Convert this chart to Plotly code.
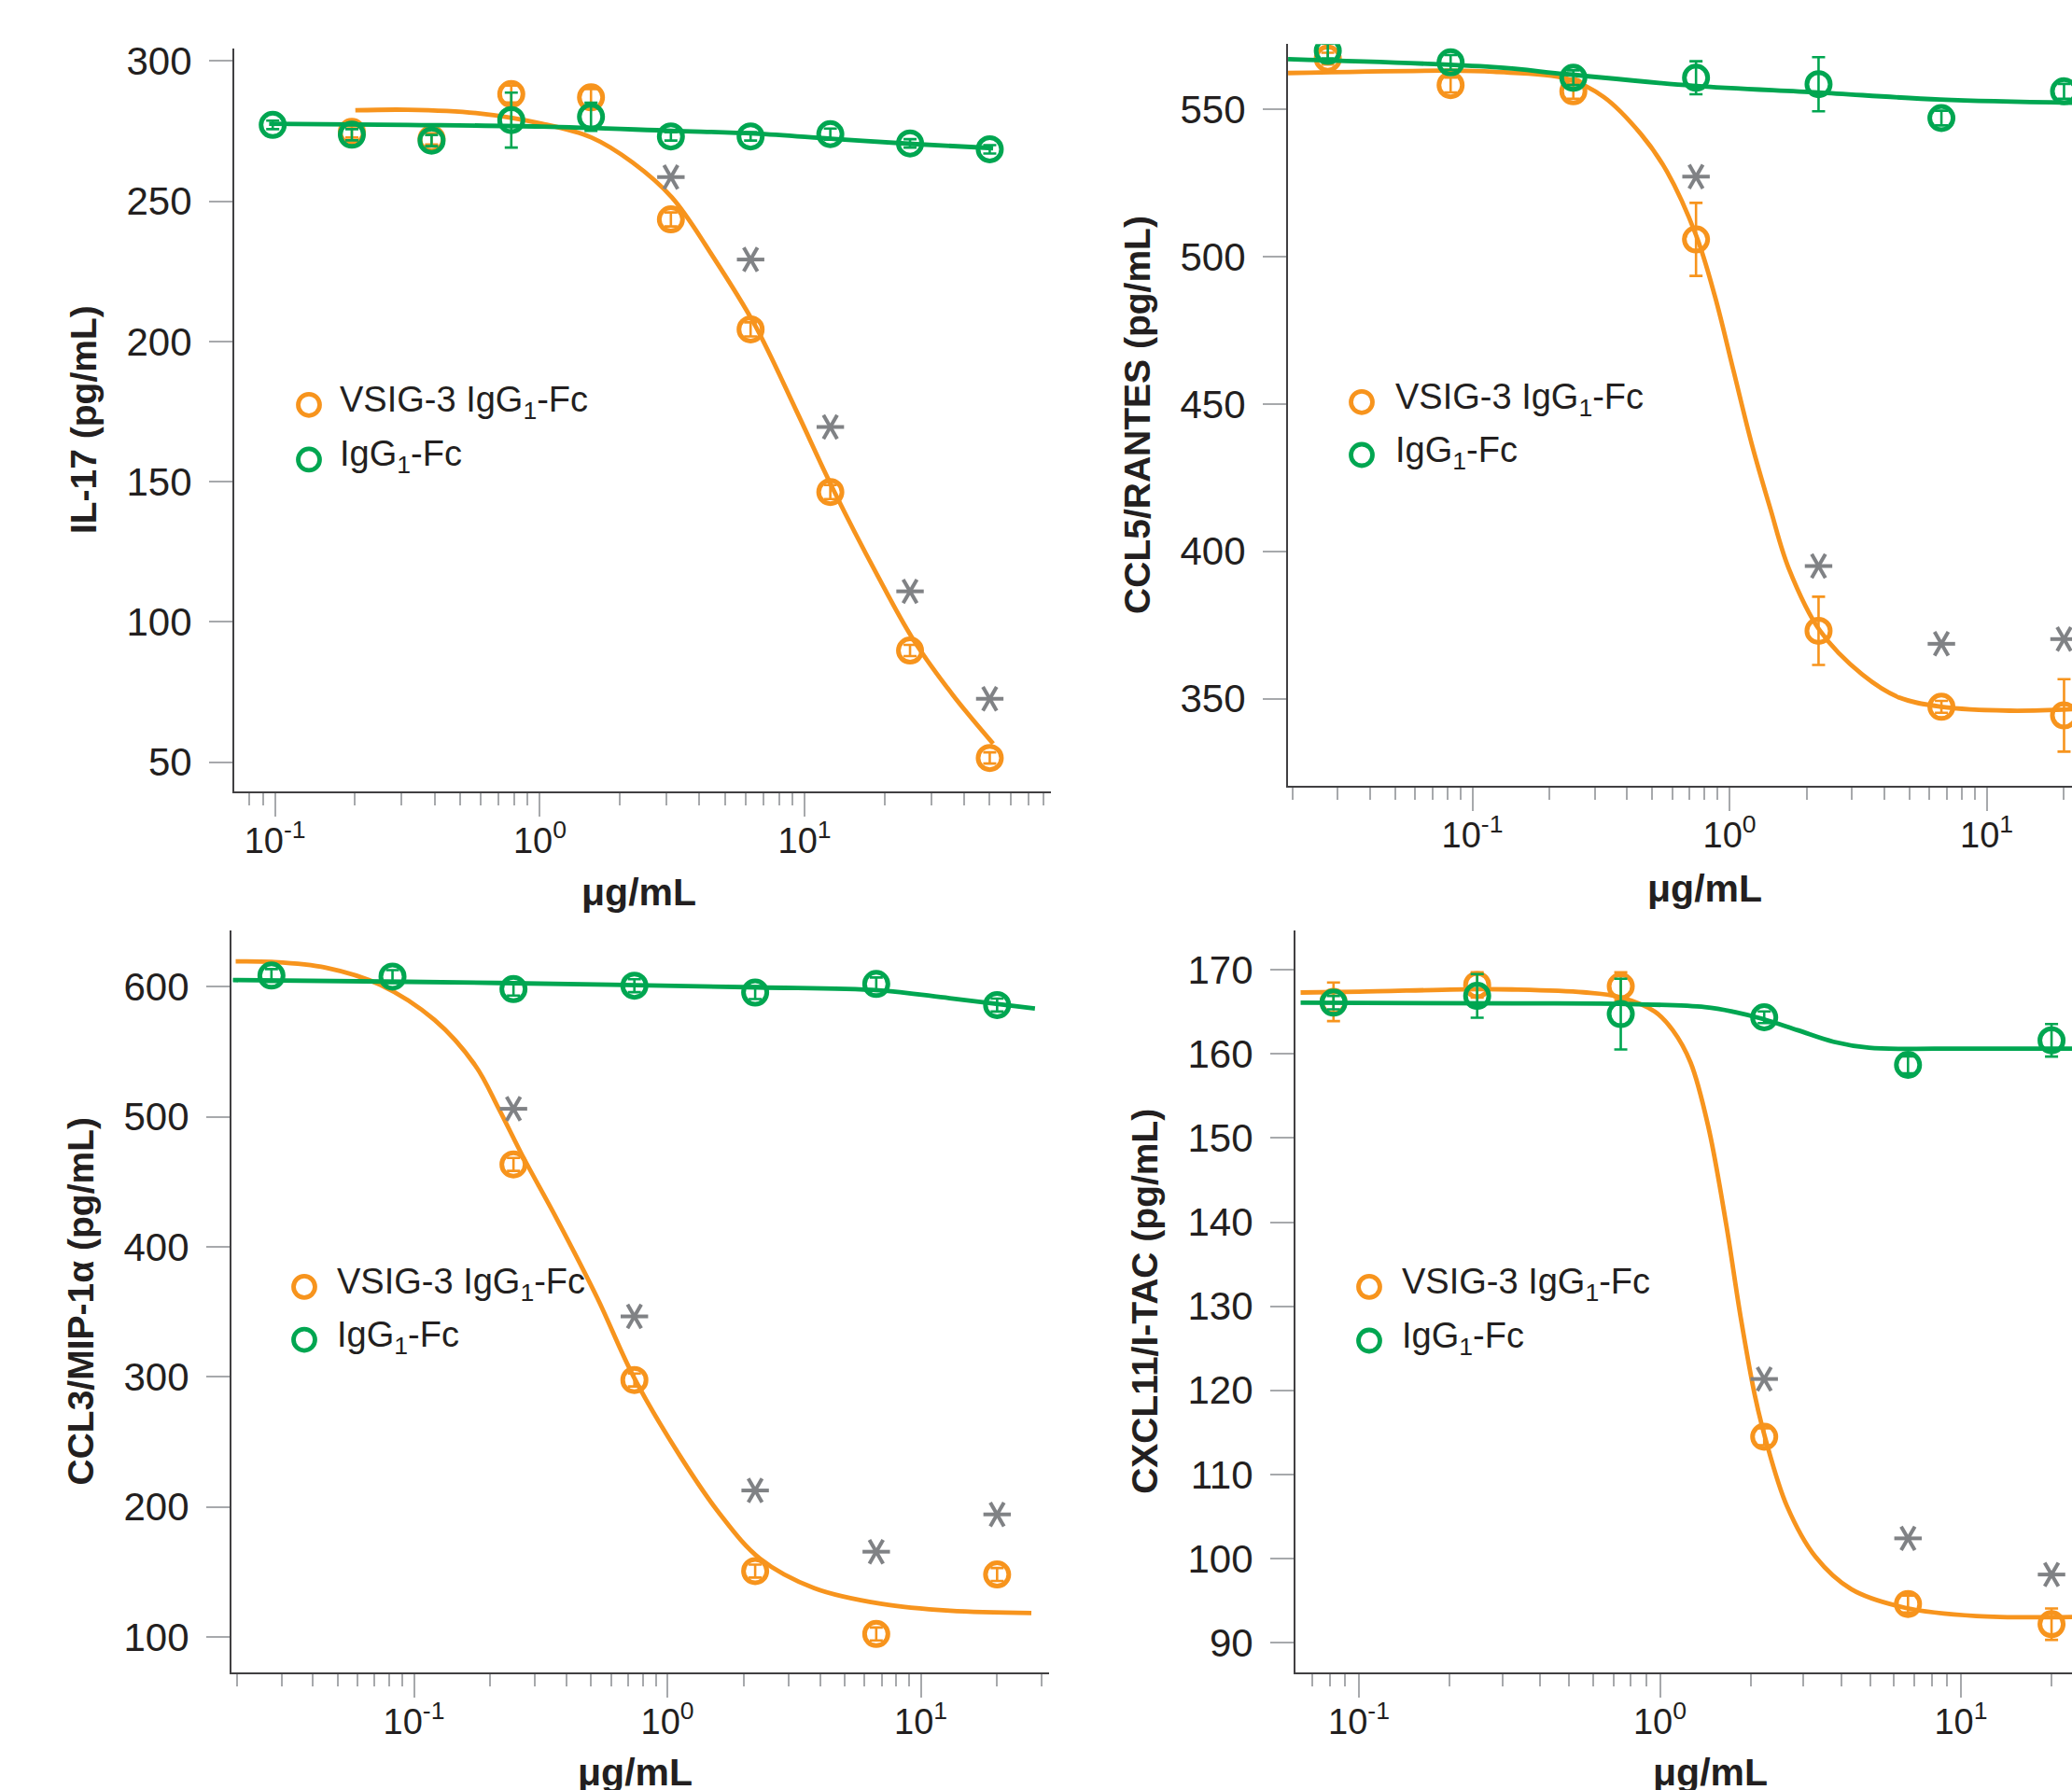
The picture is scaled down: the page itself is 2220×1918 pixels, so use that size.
import plotly.graph_objects as go

W, H = 2220, 1918
ORANGE = "#F7941D"
GREEN = "#00A651"
STAR = "#808285"
TEXT = "#231F20"
AXIS = "#414042"
TICK = "#A7A9AC"
FONT = "Liberation Sans, Arial, Helvetica, sans-serif"

# ---------------- Panel 1: IL-17 ----------------
il17_conc_vsig = [0.195, 0.39, 0.78, 1.56, 3.125, 6.25, 12.5, 25, 50]
il17_vsig = [274.7, 272.2, 288.2, 287.0, 243.5, 204.3, 146.3, 89.8, 51.5]
il17_vsig_err = [2, 2, 3, 3, 2.5, 2.5, 2.5, 2, 2]
il17_conc_igg = [0.098, 0.195, 0.39, 0.78, 1.56, 3.125, 6.25, 12.5, 25, 50]
il17_igg = [277.2, 273.7, 271.6, 278.9, 280.1, 273.1, 273.1, 273.9, 270.6, 268.5]
il17_igg_err = [1.5, 2, 2, 9.8, 5, 1.5, 1.5, 2, 1.5, 1.5]
il17_star_conc = [3.125, 6.25, 12.5, 25, 50]
il17_star_y = [258.6, 229.2, 169.5, 110.9, 72.6]
il17_fit_vsig_x = [0.201, 0.317, 0.573, 1.02, 1.567, 2.24, 3.155, 4.55, 6.49, 9.26, 12.9, 18.8, 25.6, 36.1, 51.5]
il17_fit_vsig_y = [282.4, 282.6, 281.4, 277.6, 272.7, 263.8, 251.3, 229.6, 205.8, 175.7, 146.7, 116.7, 94.0, 74.2, 56.6]
il17_fit_igg_x = [0.095, 0.317, 1.02, 3.155, 6.49, 12.9, 25.6, 51.5]
il17_fit_igg_y = [277.6, 277.2, 276.6, 275.1, 274.1, 272.2, 270.4, 268.9]

# ---------------- Panel 2: CCL5/RANTES ----------------
ccl5_conc = [0.0274, 0.0823, 0.247, 0.741, 2.22, 6.67, 20]
ccl5_vsig = [567.3, 558.3, 556.2, 505.9, 373.0, 347.2, 344.3]
ccl5_vsig_err = [2, 2.5, 2.5, 12.4, 11.6, 2, 12.3]
ccl5_igg = [569.9, 566.0, 560.8, 560.8, 558.6, 547.1, 556.2]
ccl5_igg_err = [2.5, 2.5, 2.5, 5.6, 9.2, 2.5, 2.5]
ccl5_star_conc = [0.741, 2.22, 6.67, 20]
ccl5_star_y = [527.2, 395.0, 368.6, 370.2]
ccl5_fit_vsig_x = [0.0192, 0.0818, 0.1207, 0.233, 0.325, 0.453, 0.570, 0.743, 0.877, 1.034, 1.22, 1.44, 1.70, 2.25, 3.29, 4.58, 6.68, 12.3, 21.5]
ccl5_fit_vsig_y = [562.4, 563.2, 562.8, 560.5, 554.2, 541.6, 529.1, 507.1, 486.7, 461.7, 436.5, 414.6, 394.2, 373.0, 358.1, 350.3, 347.2, 345.9, 346.4]
ccl5_fit_igg_x = [0.0192, 0.1207, 0.233, 0.719, 2.21, 6.58, 21.5]
ccl5_fit_igg_y = [567.1, 564.4, 562.0, 558.1, 555.8, 553.4, 552.3]

# ---------------- Panel 3: CCL3/MIP-1a ----------------
ccl3_conc_igg = [0.0274, 0.0823, 0.247, 0.741, 2.22, 6.67, 20]
ccl3_igg = [608.7, 607.9, 598.3, 600.9, 595.6, 602.2, 586.0]
ccl3_igg_err = [5, 5, 5, 5, 5, 5, 5]
ccl3_conc_vsig = [0.247, 0.741, 2.22, 6.67, 20]
ccl3_vsig = [463.4, 297.6, 150.6, 102.2, 148.0]
ccl3_vsig_err = [5, 5, 5, 5, 5]
ccl3_star_conc = [0.247, 0.741, 2.22, 6.67, 20]
ccl3_star_y = [506.2, 346.5, 212.6, 165.5, 194.2]
ccl3_fit_vsig_x = [0.0198, 0.0274, 0.0449, 0.0734, 0.1203, 0.1742, 0.2162, 0.2682, 0.3649, 0.5284, 0.7371, 1.107, 1.603, 2.32, 3.80, 7.04, 13.03, 27.3]
ccl3_fit_vsig_y = [619.6, 619.2, 614.8, 601.7, 574.7, 539.8, 506.2, 470.0, 422.0, 360.9, 299.8, 240.9, 195.1, 160.2, 137.5, 125.3, 120.1, 118.3]
ccl3_fit_igg_x = [0.0193, 0.094, 0.5975, 2.275, 6.78, 13.0, 28.2]
ccl3_fit_igg_y = [605.2, 603.9, 601.7, 599.6, 597.4, 591.3, 583.4]

# ---------------- Panel 4: CXCL11/I-TAC ----------------
cxcl11_conc = [0.0823, 0.247, 0.741, 2.22, 6.67, 20]
cxcl11_vsig = [166.2, 168.2, 168.05, 114.48, 94.6, 92.2]
cxcl11_vsig_err = [2.3, 1.5, 1.65, 1.0, 1.0, 1.87]
cxcl11_igg = [166.1, 166.9, 164.74, 164.36, 158.7, 161.62]
cxcl11_igg_err = [0.8, 2.6, 4.2, 0.7, 1.0, 1.93]
cxcl11_star_conc = [2.22, 6.67, 20]
cxcl11_star_y = [121.35, 102.4, 98.1]
cxcl11_fit_vsig_x = [0.064, 0.1, 0.252, 0.3225, 0.557, 0.732, 0.962, 1.103, 1.264, 1.449, 1.66, 1.853, 2.066, 2.243, 2.643, 3.29, 4.325, 6.52, 11.25, 23.4]
cxcl11_fit_vsig_y = [167.3, 167.4, 167.7, 167.66, 167.33, 166.78, 165.02, 162.82, 158.98, 151.28, 139.74, 128.76, 119.43, 114.2, 106.23, 100.19, 96.35, 94.15, 93.17, 93.06]
cxcl11_fit_igg_x = [0.064, 0.3225, 0.732, 1.411, 1.756, 2.18, 2.87, 3.77, 4.95, 8.55, 23.4]
cxcl11_fit_igg_y = [166.1, 166.01, 165.95, 165.57, 165.02, 164.19, 162.82, 161.45, 160.73, 160.62, 160.62]

# tick labels / titles
x_tickvals = [0.1, 1, 10]
x_ticktext = ["10<sup>-1</sup>", "10<sup>0</sup>", "10<sup>1</sup>"]
x_title = "<b>μg/mL</b>"
legend_labels = ["VSIG-3 IgG<sub>1</sub>-Fc", "IgG<sub>1</sub>-Fc"]
y_titles = ["<b>IL-17 (pg/mL)</b>", "<b>CCL5/RANTES (pg/mL)</b>",
            "<b>CCL3/MIP-1α (pg/mL)</b>", "<b>CXCL11/I-TAC (pg/mL)</b>"]
y_ticks = [[50, 100, 150, 200, 250, 300], [350, 400, 450, 500, 550],
           [100, 200, 300, 400, 500, 600], [90, 100, 110, 120, 130, 140, 150, 160, 170]]

# ---------------- layout geometry (pixels) ----------------
geom = [
    dict(x=(251, 1126), y=(42, 842), xr=(-1.154, 1.93), yr=(39.7, 304.5),
         leg=(331, 362, 426, 485), xt=(684, 951)),
    dict(x=(1380, 2220), y=(37.5, 836), xr=(-1.717, 1.332), yr=(320.5, 572.2),
         leg=(1459, 1493, 423, 480), xt=(1826, 947)),
    dict(x=(248, 1124), y=(992, 1791), xr=(-1.72, 1.506), yr=(72.9, 643.5),
         leg=(326, 359, 1376, 1433), xt=(680, 1899)),
    dict(x=(1388, 2220), y=(992, 1791), xr=(-1.211, 1.369), yr=(86.5, 174.7),
         leg=(1467, 1500, 1376, 1434), xt=(1832, 1899)),
]

series = [
    (il17_conc_vsig, il17_vsig, il17_vsig_err, il17_conc_igg, il17_igg, il17_igg_err,
     il17_star_conc, il17_star_y, il17_fit_vsig_x, il17_fit_vsig_y, il17_fit_igg_x, il17_fit_igg_y),
    (ccl5_conc, ccl5_vsig, ccl5_vsig_err, ccl5_conc, ccl5_igg, ccl5_igg_err,
     ccl5_star_conc, ccl5_star_y, ccl5_fit_vsig_x, ccl5_fit_vsig_y, ccl5_fit_igg_x, ccl5_fit_igg_y),
    (ccl3_conc_vsig, ccl3_vsig, ccl3_vsig_err, ccl3_conc_igg, ccl3_igg, ccl3_igg_err,
     ccl3_star_conc, ccl3_star_y, ccl3_fit_vsig_x, ccl3_fit_vsig_y, ccl3_fit_igg_x, ccl3_fit_igg_y),
    (cxcl11_conc, cxcl11_vsig, cxcl11_vsig_err, cxcl11_conc, cxcl11_igg, cxcl11_igg_err,
     cxcl11_star_conc, cxcl11_star_y, cxcl11_fit_vsig_x, cxcl11_fit_vsig_y, cxcl11_fit_igg_x, cxcl11_fit_igg_y),
]

fig = go.Figure()
layout = dict(width=W, height=H, margin=dict(l=0, r=0, t=0, b=0),
              paper_bgcolor="white", plot_bgcolor="white", showlegend=False,
              font=dict(family=FONT, color=TEXT))
shapes, annotations = [], []


def minor_vals(lo, hi):
    out = []
    for k in range(-3, 3):
        for m in range(2, 10):
            v = m * 10 ** k
            if 10 ** lo <= v <= 10 ** hi:
                out.append(v)
    return out


for i, (g, s) in enumerate(zip(geom, series)):
    n = "" if i == 0 else str(i + 1)
    xa, ya = "x" + n, "y" + n
    (cv, yv, ev, cg, yg, eg, sc, sy, fvx, fvy, fgx, fgy) = s

    # fitted curves and data points
    fig.add_trace(go.Scatter(x=fvx, y=fvy, mode="lines", xaxis=xa, yaxis=ya,
                             line=dict(color=ORANGE, width=4.8, shape="spline", smoothing=1.0),
                             hoverinfo="skip"))
    fig.add_trace(go.Scatter(x=cv, y=yv, mode="markers", xaxis=xa, yaxis=ya,
                             marker=dict(symbol="circle-open", size=25, color=ORANGE,
                                         line=dict(width=5, color=ORANGE)),
                             error_y=dict(type="data", array=ev, color=ORANGE, thickness=2.6, width=7)))
    fig.add_trace(go.Scatter(x=fgx, y=fgy, mode="lines", xaxis=xa, yaxis=ya,
                             line=dict(color=GREEN, width=4.8, shape="spline", smoothing=1.0),
                             hoverinfo="skip"))
    fig.add_trace(go.Scatter(x=cg, y=yg, mode="markers", xaxis=xa, yaxis=ya,
                             marker=dict(symbol="circle-open", size=25, color=GREEN,
                                         line=dict(width=5, color=GREEN)),
                             error_y=dict(type="data", array=eg, color=GREEN, thickness=2.6, width=7)))
    # significance asterisks (six-armed, built from three line markers)
    for sym, ang in (("line-ew-open", 0), ("line-ns-open", 30), ("line-ns-open", -30)):
        fig.add_trace(go.Scatter(x=sc, y=sy, mode="markers", xaxis=xa, yaxis=ya,
                                 marker=dict(symbol=sym, angle=ang, size=21, color=STAR,
                                             line=dict(width=4, color=STAR)),
                                 hoverinfo="skip"))

    layout["xaxis" + n] = dict(
        type="log", range=list(g["xr"]), domain=[g["x"][0] / W, g["x"][1] / W], anchor=ya,
        showline=True, linecolor=AXIS, linewidth=2, mirror=False,
        ticks="outside", ticklen=25, tickwidth=2, tickcolor=TICK,
        tickvals=x_tickvals, ticktext=x_ticktext,
        tickfont=dict(size=38, family=FONT, color=TEXT), ticklabelstandoff=-6,
        minor=dict(tickvals=minor_vals(*g["xr"]), ticks="outside", ticklen=13,
                   tickwidth=2, tickcolor=TICK, showgrid=False),
        showgrid=False, zeroline=False, fixedrange=True)
    layout["yaxis" + n] = dict(
        range=list(g["yr"]), domain=[1 - g["y"][1] / H, 1 - g["y"][0] / H], anchor=xa,
        showline=True, linecolor=AXIS, linewidth=2,
        ticks="outside", ticklen=25, tickwidth=2, tickcolor=TICK,
        tickvals=y_ticks[i], tickfont=dict(size=42, family=FONT, color=TEXT),
        ticklabelstandoff=10,
        title=dict(text=y_titles[i], font=dict(size=39, family=FONT, color=TEXT), standoff=20),
        showgrid=False, zeroline=False, fixedrange=True)

    # x-axis title
    annotations.append(dict(text=x_title, xref="paper", yref="paper",
                            x=g["xt"][0] / W, y=1 - g["xt"][1] / H, xanchor="center", yanchor="middle",
                            showarrow=False, font=dict(size=41, family=FONT, color=TEXT)))
    # legend
    cx, tx, y1, y2 = g["leg"]
    for cy, col, lab in ((y1, ORANGE, legend_labels[0]), (y2, GREEN, legend_labels[1])):
        shapes.append(dict(type="circle", xref="paper", yref="paper",
                           xsizemode="pixel", ysizemode="pixel",
                           xanchor=cx / W, yanchor=1 - cy / H,
                           x0=-11.5, x1=11.5, y0=-11.5, y1=11.5,
                           line=dict(color=col, width=4.8), fillcolor="rgba(0,0,0,0)"))
        annotations.append(dict(text=lab, xref="paper", yref="paper",
                                x=tx / W, y=1 - (cy - 3) / H, xanchor="left", yanchor="middle",
                                showarrow=False, font=dict(size=38, family=FONT, color=TEXT)))

layout["shapes"] = shapes
layout["annotations"] = annotations
fig.update_layout(**layout)
fig.write_html("out.html", config={"displayModeBar": False, "staticPlot": True},
               post_script="document.body.style.margin='0px';document.body.style.padding='0px';"
                           "document.body.style.overflow='hidden';")
